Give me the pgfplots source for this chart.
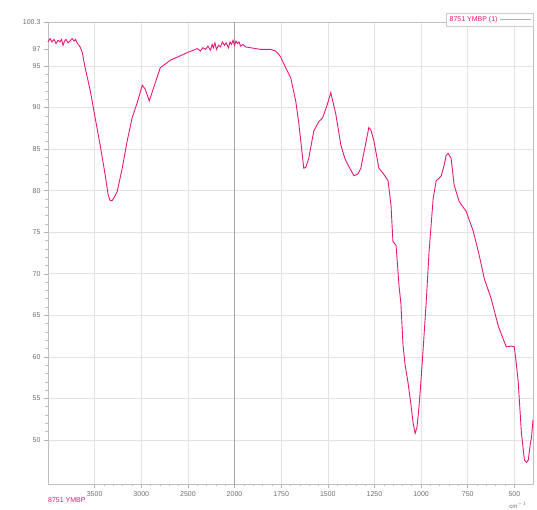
\documentclass[border=0pt]{standalone}
\usepackage{fontspec}
\setmainfont{Liberation Sans}
\usepackage{pgfplots}
\pgfplotsset{compat=1.18}
\definecolor{spec}{RGB}{232,24,120}
\definecolor{tickgray}{RGB}{110,110,110}
\begin{document}
\begin{tikzpicture}
\path[use as bounding box] (0,0) rectangle (537pt,510pt);
\begin{axis}[
  at={(48pt,26pt)}, anchor=south west,
  scale only axis, width=485pt, height=462pt,
  x dir=reverse, xmin=400, xmax=4000, ymin=44.7, ymax=100.3,
  x coord trafo/.code={\pgfmathparse{#1>2000?2000+(#1-2000)/2:#1}},
  x coord inv trafo/.code={\pgfmathparse{#1>2000?2000+(#1-2000)*2:#1}},
  xtick={3500,3000,2500,2000,1750,1500,1250,1000,750,500},
  xticklabels={3500,3000,2500,2000,1750,1500,1250,1000,750,500},
  ytick={50,55,...,95},
  yticklabels={50,55,60,65,70,75,80,85,90,95},
  extra y ticks={97,100.3},
  extra y tick labels={97,100.3},
  extra y tick style={grid=none},
  extra x ticks={2000},
  extra x tick labels={},
  extra x tick style={major grid style={gray!70, line width=1pt}},
  xtick pos=left, ytick pos=left,
  grid=major,
  major grid style={gray!22, line width=0.6pt},
  axis line style={gray!50},
  tick style={gray!60, line width=0.5pt},
  minor tick style={gray!50},
  tick align=outside,
  minor x tick num=4, minor y tick num=4,
  major tick length=4pt, minor tick length=2.5pt,
  ticklabel style={font=\fontsize{7}{8}\selectfont, text=tickgray},
  /pgf/number format/assume math mode=true,
  clip=false,
  legend plot pos=right,
  legend style={at={(1,1.02)}, anchor=north east, draw=gray!40,
    font=\fontsize{7}{8}\selectfont, text=spec, inner sep=1.5pt,
    row sep=0pt},
  legend image code/.code={\draw[gray!60, line width=0.5pt] (0cm,0cm) -- (1.1cm,0cm);},
]
\addplot[spec, line width=0.9pt] table {
4000 97.9
3978 98.3
3957 97.9
3935 98.2
3914 97.7
3893 98.1
3871 97.9
3855 98.2
3839 97.5
3822 98.0
3806 98.2
3785 97.8
3764 98.0
3742 98.3
3720 98.0
3704 98.2
3688 97.8
3656 97.3
3634 96.7
3602 94.8
3548 92.1
3495 88.8
3441 85.5
3387 81.9
3355 79.5
3333 78.8
3312 78.8
3290 79.2
3258 79.9
3204 82.7
3151 86.0
3097 88.8
3043 90.6
2989 92.7
2957 92.2
2914 90.8
2849 93.0
2796 94.8
2688 95.7
2548 96.4
2490 96.7
2441 96.9
2400 97.1
2366 96.8
2340 97.2
2312 97.0
2285 97.4
2258 96.9
2240 97.6
2226 97.2
2210 97.8
2194 97.0
2172 97.5
2151 97.3
2130 97.9
2108 97.5
2090 97.8
2065 97.2
2048 97.9
2032 97.6
2016 98.1
2000 97.5
1992 98.0
1984 97.7
1976 97.9
1968 97.4
1955 97.6
1941 97.3
1914 97.2
1860 97.0
1806 97.0
1780 96.8
1763 96.4
1753 96.1
1726 94.8
1699 93.6
1672 90.8
1656 88.2
1645 86.0
1629 82.7
1618 82.8
1602 83.9
1575 87.2
1548 88.3
1527 88.8
1505 90.2
1484 91.8
1457 89.2
1430 85.5
1409 83.9
1392 83.1
1360 81.8
1339 82.0
1323 82.7
1301 85.2
1280 87.6
1269 87.3
1253 86.0
1226 82.7
1204 82.1
1177 81.2
1161 78.2
1151 73.9
1134 73.4
1118 68.5
1108 66.4
1097 61.5
1086 59.1
1070 56.9
1054 54.2
1043 52.1
1032 50.8
1022 51.5
1011 54.0
1000 57.3
989 60.9
973 66.4
957 72.7
935 79.1
919 81.2
903 81.5
892 81.8
876 83.1
866 84.2
855 84.5
839 83.9
823 80.7
796 78.7
758 77.5
720 75.1
688 72.2
661 69.4
624 67.0
586 63.7
559 62.1
543 61.2
516 61.3
500 61.2
489 59.1
479 56.9
462 50.8
446 47.6
435 47.3
425 47.6
414 49.6
408 50.3
400 52.4
};
\addlegendentry{8751 YMBP (1)}
\node[anchor=north west, text=spec, font=\fontsize{7}{8}\selectfont, inner sep=0pt]
  at (rel axis cs:0,0) [yshift=-13pt] {8751 YMBP};
\node[anchor=north east, text=tickgray, font=\fontsize{6}{7}\selectfont, inner sep=0pt]
  at (rel axis cs:1,0) [yshift=-18pt, xshift=-6pt] {cm$^{-1}$};
\end{axis}
\end{tikzpicture}
\end{document}
